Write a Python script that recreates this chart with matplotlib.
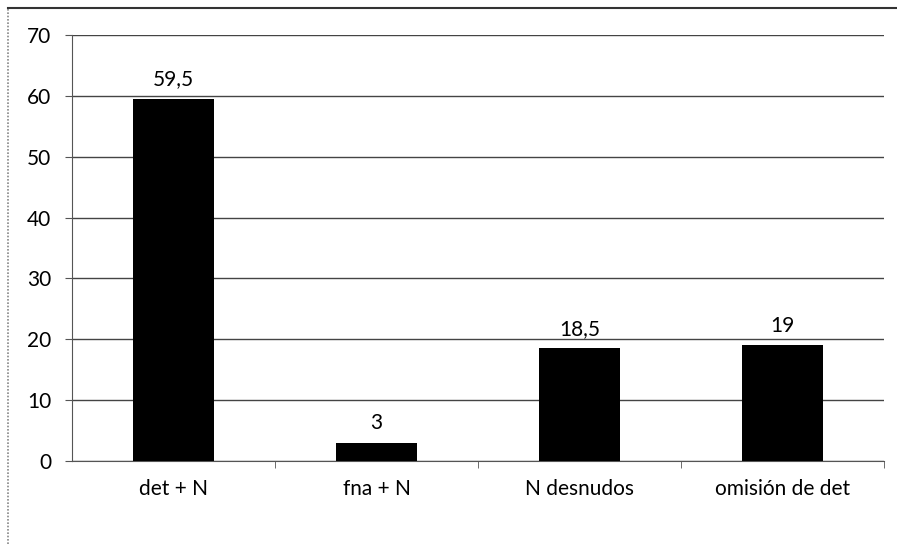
import matplotlib.pyplot as plt
from matplotlib.lines import Line2D

# categories and percentages
categorias = ["det + N", "fna + N", "N desnudos", "omisión de det"]
valores = [59.5, 3, 18.5, 19]
etiquetas = ["59,5", "3", "18,5", "19"]
yticks = [0, 10, 20, 30, 40, 50, 60, 70]

plt.rcParams['font.family'] = ['Lato', 'DejaVu Sans']

fig = plt.figure(figsize=(8.97, 5.44), dpi=100)
ax = fig.add_axes([0.0803, 0.1526, 0.9052, 0.7831])

x = range(len(categorias))
ax.bar(x, valores, width=0.4, color="black", zorder=3)

# value labels above each bar
for xi, v, lab in zip(x, valores, etiquetas):
    ax.annotate(lab, (xi, v), xytext=(0, 7), textcoords="offset points",
                ha="center", va="bottom", fontsize=15)

ax.set_xlim(-0.5, len(categorias) - 0.5)
ax.set_ylim(0, 70)
ax.set_yticks(yticks)
ax.set_yticklabels([str(t) for t in yticks], fontsize=15)
ax.set_xticks(list(x))
ax.set_xticklabels(categorias, fontsize=15)
ax.set_xticks([i + 0.5 for i in x], minor=True)
ax.tick_params(axis="x", which="major", length=0, pad=13)
ax.tick_params(axis="x", which="minor", length=5, color="#555555")
ax.tick_params(axis="y", length=5, color="#555555", pad=10)

ax.grid(axis="y", color="#444444", linewidth=1, zorder=0)
for s in ["top", "right"]:
    ax.spines[s].set_visible(False)
for s in ["left", "bottom"]:
    ax.spines[s].set_color("#555555")

# chart frame: top and left edges
fig.add_artist(Line2D([8 / 897, 1], [1 - 8 / 544, 1 - 8 / 544], transform=fig.transFigure,
                      color="#333333", linewidth=1.5))
fig.add_artist(Line2D([8 / 897, 8 / 897], [0, 1 - 8 / 544], transform=fig.transFigure,
                      color="#888888", linewidth=1.2, linestyle=(0, (1, 1))))

fig.savefig("out.png", dpi=100)
